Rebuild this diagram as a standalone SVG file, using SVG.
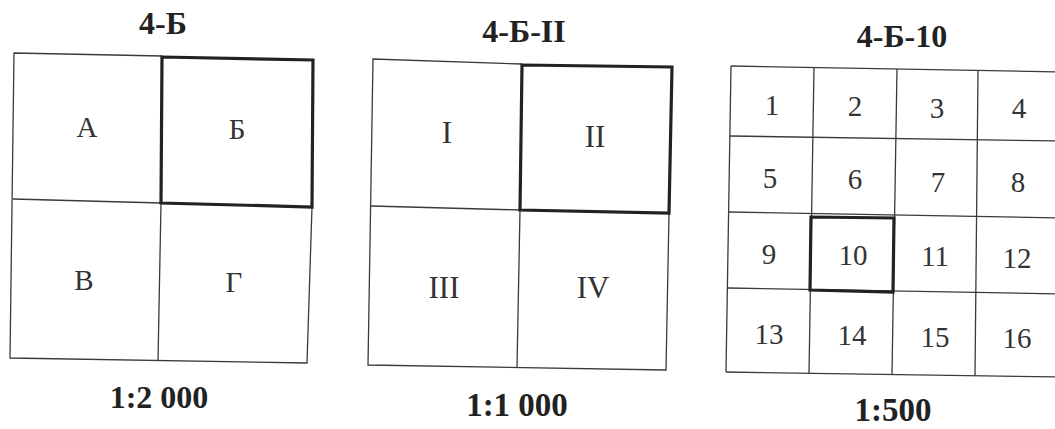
<svg xmlns="http://www.w3.org/2000/svg" width="1055" height="429" viewBox="0 0 1055 429">
<style>
.thin{fill:none;stroke:#3a3a3a;stroke-width:1.3}
.bold{fill:none;stroke:#222;stroke-width:3.2;stroke-linejoin:miter}
.lbl{font-family:"Liberation Serif","Times New Roman",serif;font-size:29px;fill:#333;text-anchor:middle}
.rom{font-size:31px}
.ttl{font-family:"Liberation Serif","Times New Roman",serif;font-size:32px;font-weight:bold;fill:#222;text-anchor:middle}
.scl{font-family:"Liberation Serif","Times New Roman",serif;font-size:32px;font-weight:bold;fill:#222;text-anchor:middle}
</style>
<rect width="1055" height="429" fill="#fff"/>

<g id="sheet-4B">
  <text class="ttl" x="163" y="34">4-Б</text>
  <g class="thin">
    <polyline points="162,56 14,53 10,358 307,363 312,207"/>
    <line x1="13" y1="199" x2="161" y2="203"/>
    <line x1="161" y1="203" x2="158" y2="361"/>
  </g>
  <polygon class="bold" points="162,57 313,60 312,207 161,203"/>
  <text class="lbl" x="87" y="137">А</text>
  <text class="lbl" x="237" y="139">Б</text>
  <text class="lbl" x="84" y="290">В</text>
  <text class="lbl" x="234" y="292">Г</text>
  <text class="scl" x="159" y="408">1:2 000</text>
</g>

<g id="sheet-4B-II">
  <text class="ttl" x="524" y="42">4-Б-II</text>
  <g class="thin">
    <polyline points="522,64 373,59 368,365 666,370 669,213"/>
    <line x1="371" y1="206" x2="520" y2="210"/>
    <line x1="520" y1="210" x2="517" y2="368"/>
  </g>
  <polygon class="bold" points="522,65 672,67 669,213 520,210"/>
  <text class="lbl rom" x="447" y="143">I</text>
  <text class="lbl rom" x="595" y="147">II</text>
  <text class="lbl rom" x="444" y="298">III</text>
  <text class="lbl rom" x="593" y="298">IV</text>
  <text class="scl" x="517" y="416" style="font-size:33px">1:1 000</text>
</g>

<g id="sheet-4B-10">
  <text class="ttl" x="902" y="47">4-Б-10</text>
  <g class="thin">
    <line x1="731" y1="66" x2="1062" y2="72"/>
    <line x1="730" y1="136" x2="1062" y2="141"/>
    <line x1="729" y1="212" x2="1062" y2="218"/>
    <line x1="728" y1="288" x2="1062" y2="294"/>
    <line x1="726" y1="372" x2="1062" y2="377"/>
    <line x1="731" y1="66" x2="726" y2="372"/>
    <line x1="814" y1="67.5" x2="809" y2="373.4"/>
    <line x1="897" y1="69" x2="892" y2="374.7"/>
    <line x1="978" y1="70.5" x2="975" y2="376"/>
  </g>
  <polygon class="bold" points="811,217 894,218 893,292 810,290"/>
  <text class="lbl" x="772" y="115">1</text>
  <text class="lbl" x="855" y="116">2</text>
  <text class="lbl" x="937" y="118">3</text>
  <text class="lbl" x="1019" y="118">4</text>
  <text class="lbl" x="770" y="188">5</text>
  <text class="lbl" x="855" y="189">6</text>
  <text class="lbl" x="938" y="192">7</text>
  <text class="lbl" x="1018" y="192">8</text>
  <text class="lbl" x="769" y="264">9</text>
  <text class="lbl" x="853" y="265">10</text>
  <text class="lbl" x="935" y="266">11</text>
  <text class="lbl" x="1017" y="268">12</text>
  <text class="lbl" x="769" y="344">13</text>
  <text class="lbl" x="852" y="345">14</text>
  <text class="lbl" x="935" y="347">15</text>
  <text class="lbl" x="1017" y="348">16</text>
  <text class="scl" x="893" y="421" style="font-size:33px">1:500</text>
</g>
</svg>
